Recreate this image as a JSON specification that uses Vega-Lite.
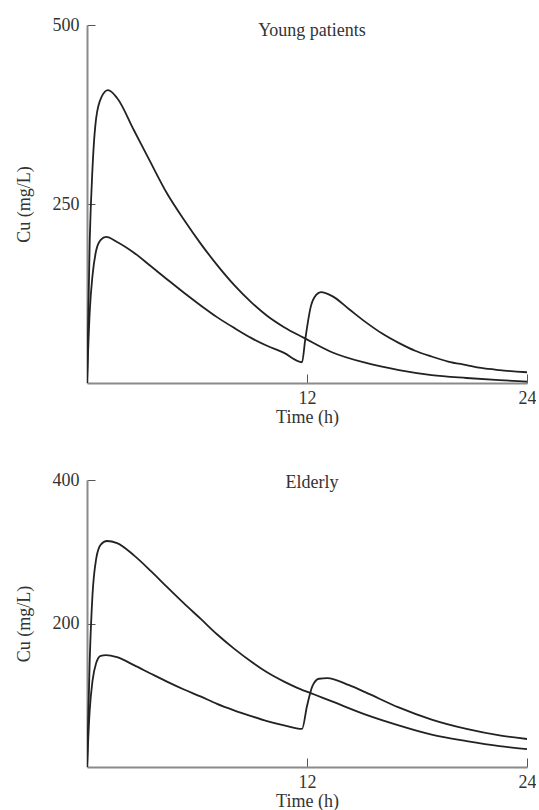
{
  "$schema": "https://vega.github.io/schema/vega-lite/v6.json",
  "background": "white",
  "padding": {"left": 15, "top": 16, "right": 0, "bottom": 0},
  "spacing": 45,
  "config": {
    "view": {"stroke": null},
    "axis": {
      "grid": false,
      "domainColor": "#8a8a8a",
      "domainWidth": 2,
      "tickColor": "#555",
      "tickWidth": 1,
      "labelFont": "Liberation Serif",
      "labelFontSize": 18,
      "labelColor": "#333",
      "labelFlush": false,
      "titleFont": "Liberation Serif",
      "titleFontSize": 18,
      "titleFontWeight": "normal",
      "titleColor": "#333"
    },
    "title": {"font": "Liberation Serif", "fontSize": 18, "fontWeight": "normal", "color": "#333"}
  },
  "datasets": {
    "cu": [
      {"panel": "young", "series": "high", "t": 0, "c": 0},
      {"panel": "young", "series": "high", "t": 0.15, "c": 200},
      {"panel": "young", "series": "high", "t": 0.3, "c": 300},
      {"panel": "young", "series": "high", "t": 0.5, "c": 370},
      {"panel": "young", "series": "high", "t": 0.8, "c": 400},
      {"panel": "young", "series": "high", "t": 1.15, "c": 409},
      {"panel": "young", "series": "high", "t": 1.64, "c": 398},
      {"panel": "young", "series": "high", "t": 2.56, "c": 353},
      {"panel": "young", "series": "high", "t": 3.49, "c": 307},
      {"panel": "young", "series": "high", "t": 4.36, "c": 265},
      {"panel": "young", "series": "high", "t": 5.29, "c": 228},
      {"panel": "young", "series": "high", "t": 6.22, "c": 194},
      {"panel": "young", "series": "high", "t": 7.09, "c": 165},
      {"panel": "young", "series": "high", "t": 8.02, "c": 137},
      {"panel": "young", "series": "high", "t": 8.95, "c": 113},
      {"panel": "young", "series": "high", "t": 9.82, "c": 94},
      {"panel": "young", "series": "high", "t": 10.75, "c": 78},
      {"panel": "young", "series": "high", "t": 11.84, "c": 63},
      {"panel": "young", "series": "high", "t": 13.36, "c": 43},
      {"panel": "young", "series": "high", "t": 15.22, "c": 28},
      {"panel": "young", "series": "high", "t": 17.02, "c": 18},
      {"panel": "young", "series": "high", "t": 18.8, "c": 11},
      {"panel": "young", "series": "high", "t": 20.7, "c": 7},
      {"panel": "young", "series": "high", "t": 22.5, "c": 4},
      {"panel": "young", "series": "high", "t": 24, "c": 2},
      {"panel": "young", "series": "split", "t": 0, "c": 0},
      {"panel": "young", "series": "split", "t": 0.15, "c": 100},
      {"panel": "young", "series": "split", "t": 0.3, "c": 150},
      {"panel": "young", "series": "split", "t": 0.5, "c": 185},
      {"panel": "young", "series": "split", "t": 0.75, "c": 200},
      {"panel": "young", "series": "split", "t": 1.04, "c": 204},
      {"panel": "young", "series": "split", "t": 1.64, "c": 197},
      {"panel": "young", "series": "split", "t": 2.56, "c": 182},
      {"panel": "young", "series": "split", "t": 3.49, "c": 163},
      {"panel": "young", "series": "split", "t": 4.36, "c": 145},
      {"panel": "young", "series": "split", "t": 5.29, "c": 126},
      {"panel": "young", "series": "split", "t": 6.22, "c": 108},
      {"panel": "young", "series": "split", "t": 7.09, "c": 92},
      {"panel": "young", "series": "split", "t": 8.02, "c": 77},
      {"panel": "young", "series": "split", "t": 8.95, "c": 63},
      {"panel": "young", "series": "split", "t": 9.82, "c": 52},
      {"panel": "young", "series": "split", "t": 10.75, "c": 42},
      {"panel": "young", "series": "split", "t": 11.73, "c": 29},
      {"panel": "young", "series": "split", "t": 11.9, "c": 60},
      {"panel": "young", "series": "split", "t": 12.2, "c": 106},
      {"panel": "young", "series": "split", "t": 12.5, "c": 123},
      {"panel": "young", "series": "split", "t": 12.76, "c": 127},
      {"panel": "young", "series": "split", "t": 13.4, "c": 121},
      {"panel": "young", "series": "split", "t": 14.3, "c": 103},
      {"panel": "young", "series": "split", "t": 15.2, "c": 85},
      {"panel": "young", "series": "split", "t": 16.1, "c": 69},
      {"panel": "young", "series": "split", "t": 17.0, "c": 56},
      {"panel": "young", "series": "split", "t": 17.9, "c": 45},
      {"panel": "young", "series": "split", "t": 18.8, "c": 37},
      {"panel": "young", "series": "split", "t": 19.7, "c": 30},
      {"panel": "young", "series": "split", "t": 20.7, "c": 25},
      {"panel": "young", "series": "split", "t": 21.5, "c": 21},
      {"panel": "young", "series": "split", "t": 22.5, "c": 18},
      {"panel": "young", "series": "split", "t": 24, "c": 15},
      {"panel": "elderly", "series": "high", "t": 0, "c": 0},
      {"panel": "elderly", "series": "high", "t": 0.15, "c": 150},
      {"panel": "elderly", "series": "high", "t": 0.3, "c": 240},
      {"panel": "elderly", "series": "high", "t": 0.5, "c": 290},
      {"panel": "elderly", "series": "high", "t": 0.75, "c": 310},
      {"panel": "elderly", "series": "high", "t": 1.09, "c": 315},
      {"panel": "elderly", "series": "high", "t": 1.64, "c": 312},
      {"panel": "elderly", "series": "high", "t": 2.56, "c": 295},
      {"panel": "elderly", "series": "high", "t": 3.49, "c": 273},
      {"panel": "elderly", "series": "high", "t": 4.36, "c": 251},
      {"panel": "elderly", "series": "high", "t": 5.29, "c": 228},
      {"panel": "elderly", "series": "high", "t": 6.22, "c": 206},
      {"panel": "elderly", "series": "high", "t": 7.09, "c": 185},
      {"panel": "elderly", "series": "high", "t": 8.02, "c": 165},
      {"panel": "elderly", "series": "high", "t": 8.95, "c": 147},
      {"panel": "elderly", "series": "high", "t": 9.82, "c": 132},
      {"panel": "elderly", "series": "high", "t": 10.75, "c": 119},
      {"panel": "elderly", "series": "high", "t": 11.5, "c": 110},
      {"panel": "elderly", "series": "high", "t": 12.4, "c": 101},
      {"panel": "elderly", "series": "high", "t": 13.4, "c": 91},
      {"panel": "elderly", "series": "high", "t": 15.2, "c": 73},
      {"panel": "elderly", "series": "high", "t": 17.0, "c": 58},
      {"panel": "elderly", "series": "high", "t": 18.8, "c": 45},
      {"panel": "elderly", "series": "high", "t": 20.7, "c": 36},
      {"panel": "elderly", "series": "high", "t": 22.5, "c": 29},
      {"panel": "elderly", "series": "high", "t": 24, "c": 25},
      {"panel": "elderly", "series": "split", "t": 0, "c": 0},
      {"panel": "elderly", "series": "split", "t": 0.15, "c": 80},
      {"panel": "elderly", "series": "split", "t": 0.3, "c": 120},
      {"panel": "elderly", "series": "split", "t": 0.5, "c": 145},
      {"panel": "elderly", "series": "split", "t": 0.75, "c": 155},
      {"panel": "elderly", "series": "split", "t": 1.04, "c": 156},
      {"panel": "elderly", "series": "split", "t": 1.64, "c": 153},
      {"panel": "elderly", "series": "split", "t": 2.56, "c": 142},
      {"panel": "elderly", "series": "split", "t": 3.49, "c": 130},
      {"panel": "elderly", "series": "split", "t": 4.36, "c": 119},
      {"panel": "elderly", "series": "split", "t": 5.29, "c": 108},
      {"panel": "elderly", "series": "split", "t": 6.22, "c": 98},
      {"panel": "elderly", "series": "split", "t": 7.09, "c": 88},
      {"panel": "elderly", "series": "split", "t": 8.02, "c": 79},
      {"panel": "elderly", "series": "split", "t": 8.95, "c": 71},
      {"panel": "elderly", "series": "split", "t": 9.82, "c": 64},
      {"panel": "elderly", "series": "split", "t": 10.75, "c": 58},
      {"panel": "elderly", "series": "split", "t": 11.73, "c": 53},
      {"panel": "elderly", "series": "split", "t": 12.0, "c": 85},
      {"panel": "elderly", "series": "split", "t": 12.3, "c": 113},
      {"panel": "elderly", "series": "split", "t": 12.65, "c": 123},
      {"panel": "elderly", "series": "split", "t": 13.1, "c": 124},
      {"panel": "elderly", "series": "split", "t": 14.3, "c": 114},
      {"panel": "elderly", "series": "split", "t": 15.2, "c": 104},
      {"panel": "elderly", "series": "split", "t": 17.0, "c": 83},
      {"panel": "elderly", "series": "split", "t": 18.8, "c": 66},
      {"panel": "elderly", "series": "split", "t": 20.7, "c": 53},
      {"panel": "elderly", "series": "split", "t": 22.5, "c": 44},
      {"panel": "elderly", "series": "split", "t": 24, "c": 39}
    ]
  },
  "vconcat": [
    {
      "width": 440,
      "height": 358,
      "title": {"text": "Young patients", "offset": -24, "anchor": "middle", "dx": 5},
      "data": {"name": "cu"},
      "transform": [{"filter": "datum.panel === 'young'"}],
      "mark": {"type": "line", "color": "#222", "strokeWidth": 1.8, "interpolate": "monotone", "clip": true},
      "encoding": {
        "x": {"field": "t", "type": "quantitative", "title": "Time (h)",
              "scale": {"domain": [0, 24], "nice": false},
              "axis": {"values": [12, 24], "tickSize": -9, "labelPadding": 15, "titlePadding": 1}},
        "y": {"field": "c", "type": "quantitative", "title": "Cu (mg/L)",
              "scale": {"domain": [0, 500], "nice": false},
              "axis": {"values": [250, 500], "tickSize": -8, "labelPadding": 16, "titlePadding": 19}},
        "detail": {"field": "series"}
      }
    },
    {
      "width": 440,
      "height": 287,
      "title": {"text": "Elderly", "offset": -21, "anchor": "middle", "dx": 5},
      "data": {"name": "cu"},
      "transform": [{"filter": "datum.panel === 'elderly'"}],
      "mark": {"type": "line", "color": "#222", "strokeWidth": 1.8, "interpolate": "monotone", "clip": true},
      "encoding": {
        "x": {"field": "t", "type": "quantitative", "title": "Time (h)",
              "scale": {"domain": [0, 24], "nice": false},
              "axis": {"values": [12, 24], "tickSize": -9, "labelPadding": 15, "titlePadding": 1}},
        "y": {"field": "c", "type": "quantitative", "title": "Cu (mg/L)",
              "scale": {"domain": [0, 400], "nice": false},
              "axis": {"values": [200, 400], "tickSize": -8, "labelPadding": 16, "titlePadding": 19}},
        "detail": {"field": "series"}
      }
    }
  ]
}
